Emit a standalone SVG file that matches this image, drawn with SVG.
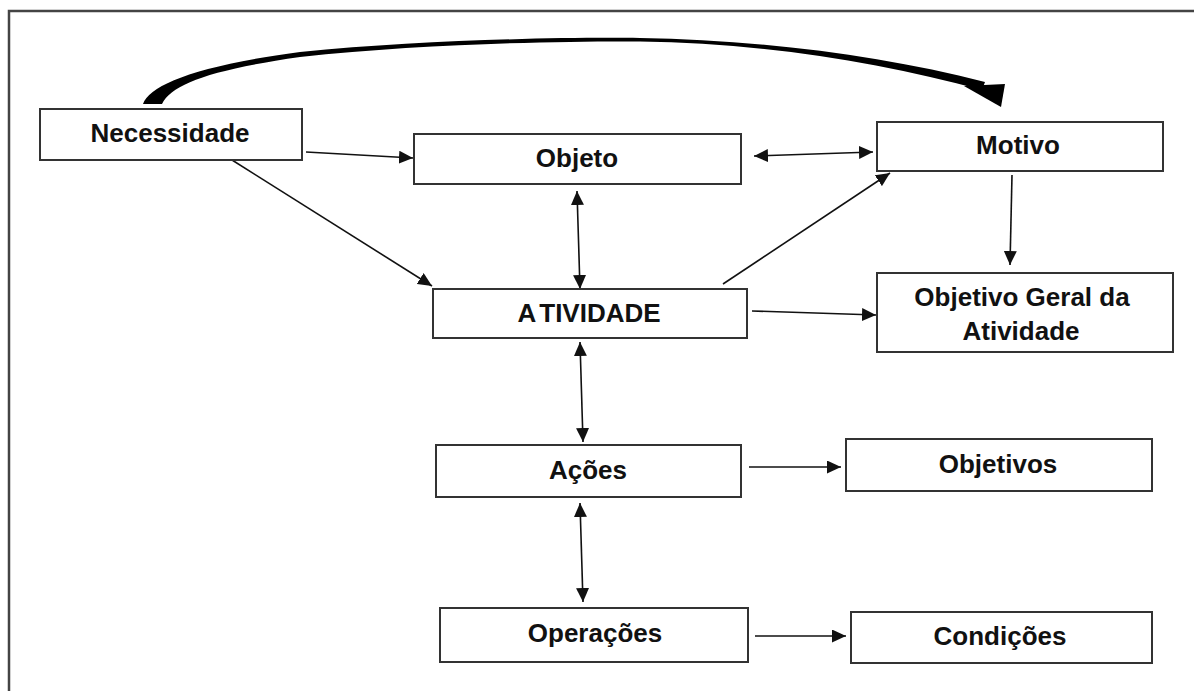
<svg xmlns="http://www.w3.org/2000/svg" width="1194" height="691" viewBox="0 0 1194 691">
  <defs>
    <style>
      .box { fill: #ffffff; stroke: #333333; stroke-width: 2; }
      .lbl { font-family: "Liberation Sans", Arial, sans-serif; font-weight: bold; font-size: 26px; fill: #111111; text-anchor: middle; }
      .edge { stroke: #111111; stroke-width: 1.6; fill: none; }
      .one { marker-end: url(#head); }
      .two { marker-start: url(#head); marker-end: url(#head); }
    </style>
    <marker id="head" markerUnits="userSpaceOnUse" markerWidth="14" markerHeight="13" refX="14" refY="6.5" orient="auto-start-reverse">
      <path d="M0,0 L14,6.5 L0,13 Z" fill="#111111"/>
    </marker>
  </defs>

  <rect width="1194" height="691" fill="#ffffff"/>

  <!-- outer frame (top and left edges) -->
  <path d="M9,691 L9,11 L1194,11" fill="none" stroke="#444444" stroke-width="2.5"/>

  <!-- connectors -->
  <g id="connectors">
    <!-- thick curved arrow Necessidade -> Motivo -->
    <path d="M143,104 C150,85 195,66 300,52 C420,40 560,37 640,38 C760,40 880,55 985,82 L982,90 C880,62 760,43 640,41.5 C560,41 420,44 300,57 C210,70 172,84 162,104 Z" fill="#000000"/>
    <polygon points="964,86 1005,84 1001,107" fill="#000000"/>

    <line class="edge one" x1="306" y1="152" x2="413" y2="158"/>
    <line class="edge one" x1="232" y1="160" x2="432" y2="286"/>
    <line class="edge two" x1="754" y1="156" x2="873" y2="152"/>
    <line class="edge two" x1="577" y1="191" x2="580" y2="289"/>
    <line class="edge one" x1="723" y1="284" x2="890" y2="173"/>
    <line class="edge one" x1="752" y1="311" x2="876" y2="315"/>
    <line class="edge one" x1="1012" y1="175" x2="1010" y2="265"/>
    <line class="edge two" x1="580" y1="342" x2="583" y2="442"/>
    <line class="edge one" x1="749" y1="467" x2="841" y2="467"/>
    <line class="edge two" x1="580" y1="503" x2="583" y2="602"/>
    <line class="edge one" x1="755" y1="636" x2="846" y2="636"/>
  </g>

  <g id="necessidade">
    <rect class="box" x="40" y="109" width="262" height="51"/>
    <text class="lbl" x="170" y="142">Necessidade</text>
  </g>

  <g id="objeto">
    <rect class="box" x="414" y="134" width="327" height="50"/>
    <text class="lbl" x="577" y="167">Objeto</text>
  </g>

  <g id="motivo">
    <rect class="box" x="877" y="122" width="286" height="49"/>
    <text class="lbl" x="1018" y="154">Motivo</text>
  </g>

  <g id="atividade">
    <rect class="box" x="433" y="289" width="314" height="49"/>
    <text class="lbl" x="589" y="322">A<tspan dx="5">TIVIDADE</tspan></text>
  </g>

  <g id="objetivo-geral">
    <rect class="box" x="877" y="273" width="296" height="79"/>
    <text class="lbl" x="1022" y="306">Objetivo Geral da</text>
    <text class="lbl" x="1021" y="340">Atividade</text>
  </g>

  <g id="acoes">
    <rect class="box" x="436" y="445" width="305" height="52"/>
    <text class="lbl" x="588" y="479">Ações</text>
  </g>

  <g id="objetivos">
    <rect class="box" x="846" y="439" width="306" height="52"/>
    <text class="lbl" x="998" y="473">Objetivos</text>
  </g>

  <g id="operacoes">
    <rect class="box" x="440" y="608" width="308" height="54"/>
    <text class="lbl" x="595" y="642">Operações</text>
  </g>

  <g id="condicoes">
    <rect class="box" x="851" y="612" width="301" height="51"/>
    <text class="lbl" x="1000" y="645">Condições</text>
  </g>
</svg>
